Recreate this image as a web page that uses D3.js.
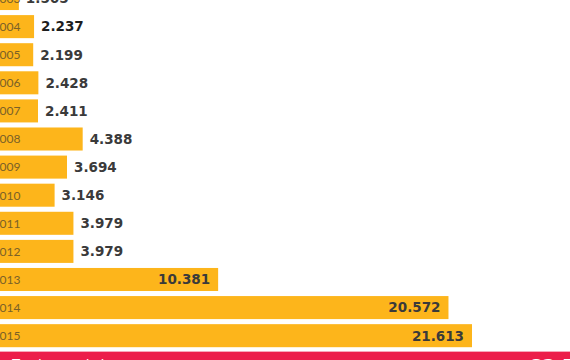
<!DOCTYPE html>
<html>
<head>
<meta charset="utf-8">
<script src="https://cdn.jsdelivr.net/npm/d3@7"></script>
<style>
  html, body { margin: 0; padding: 0; background: #ffffff; overflow: hidden; }
  svg { display: block; }
</style>
</head>
<body>
<svg id="chart" width="570" height="360"></svg>
<script>
// Data (years and values, thousands-separated with a dot as in the source)
const years = ["2003","2004","2005","2006","2007","2008","2009","2010","2011","2012","2013","2014","2015"];
const values = [1.565, 2.237, 2.199, 2.428, 2.411, 4.388, 3.694, 3.146, 3.979, 3.979, 10.381, 20.572, 21.613];
const valueLabels = ["1.565","2.237","2.199","2.428","2.411","4.388","3.694","3.146","3.979","3.979","10.381","20.572","21.613"];
const footerLeft = "Total acumulado";
const footerRight = "82.592";

const W = 570, H = 360;
const svg = d3.select("#chart");

const x = d3.scaleLinear().domain([0, 21.613]).range([-16.5, 472]);
const y = d3.scaleBand().domain(years).range([-13, 347.2]).paddingInner(0.18).paddingOuter(0);

const rows = years.map((yr, i) => ({ year: yr, value: values[i], label: valueLabels[i] }));

const g = svg.append("g");

g.selectAll("rect.bar")
  .data(rows)
  .enter().append("rect")
  .attr("class", "bar")
  .attr("x", x(0))
  .attr("y", d => y(d.year))
  .attr("width", d => x(d.value) - x(0))
  .attr("height", y.bandwidth())
  .attr("fill", "#FDB51B");

g.selectAll("text.year")
  .data(rows)
  .enter().append("text")
  .attr("class", "year")
  .attr("x", x(0) + 9)
  .attr("y", d => y(d.year) + y.bandwidth() / 2)
  .attr("dy", "0.36em")
  .attr("font-family", "Lato, 'Open Sans', sans-serif")
  .attr("font-weight", 400)
  .attr("font-size", 12)
  .attr("fill", "#7a6128")
  .text(d => d.year);

g.selectAll("text.val")
  .data(rows)
  .enter().append("text")
  .attr("class", "val")
  .attr("x", d => d.value > 10 ? x(d.value) - 8 : x(d.value) + 7)
  .attr("text-anchor", d => d.value > 10 ? "end" : "start")
  .attr("y", d => y(d.year) + y.bandwidth() / 2)
  .attr("dy", "0.36em")
  .attr("font-family", "'DejaVu Sans', sans-serif")
  .attr("font-weight", 700)
  .attr("font-size", 13.5)
  .attr("fill", d => d.year === "2004" ? "#1e1e1e" : "#3a3a3a")
  .text(d => d.label);

// Red footer band (cut off by the frame)
svg.append("rect")
  .attr("x", 0).attr("y", 352)
  .attr("width", W).attr("height", 20)
  .attr("fill", "#EC1E4A");
svg.append("rect")
  .attr("x", 0).attr("y", 351)
  .attr("width", W).attr("height", 1)
  .attr("fill", "#F7A9BA");

svg.append("text")
  .attr("x", 12).attr("y", 368.5)
  .attr("font-family", "Lato, sans-serif")
  .attr("font-size", 14)
  .attr("fill", "#ffffff")
  .text(footerLeft);
svg.append("text")
  .attr("x", 530).attr("y", 371.5)
  .attr("font-family", "'DejaVu Sans', sans-serif")
  .attr("font-weight", 700)
  .attr("font-size", 18)
  .attr("fill", "#ffffff")
  .text(footerRight);
</script>
</body>
</html>
